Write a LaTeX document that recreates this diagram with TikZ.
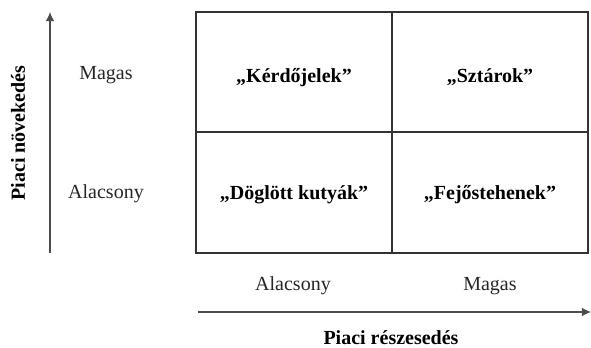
\documentclass[tikz,border=0pt]{standalone}
\usepackage{fontspec}
\setmainfont{Liberation Serif}
\usetikzlibrary{arrows.meta}
\begin{document}
\begin{tikzpicture}[x=0.5pt,y=-0.5pt,
  cell/.style={draw=black!80,line width=1pt,rectangle,inner sep=0pt,outer sep=0pt,
    minimum width=98pt,minimum height=60.25pt,font=\fontsize{10}{12}\selectfont\bfseries},
  celltext/.style={font=\fontsize{10}{12}\selectfont\bfseries,inner sep=0pt},
  lbl/.style={font=\fontsize{10}{12}\selectfont,text=black!85,inner sep=0pt},
  axtitle/.style={font=\fontsize{10}{12}\selectfont\bfseries,inner sep=0pt},
  axis/.style={draw=black!70,line width=0.6pt,-{Latex[length=4.6pt,width=4.4pt]}}]
\useasboundingbox (0,0) rectangle (591,348);
\node[cell] (kj) at (294,72.25) {};
\node[cell] (sz) at (490,72.25) {};
\node[cell] (dk) at (294,192.75) {};
\node[cell] (fs) at (490,192.75) {};
\node[celltext] (kjt) at ([yshift=-2.5pt]kj.center) {„Kérdőjelek”};
\node[celltext] (szt) at ([yshift=-2.5pt]sz.center) {„Sztárok”};
\node[celltext] (dkt) at ([yshift=-1pt]dk.center) {„Döglött kutyák”};
\node[celltext] (fst) at ([yshift=-1pt]fs.center) {„Fejőstehenek”};
\node[lbl] (ym) at (106,75) {Magas};
\node[lbl] (ya) at (106,194) {Alacsony};
\node[lbl] (xa) at (293,286) {Alacsony};
\node[lbl] (xm) at (490,286) {Magas};
\node[axtitle,rotate=90] (yt) at (18,133) {Piaci növekedés};
\node[axtitle] (xt) at (391,338) {Piaci részesedés};
\coordinate (vb) at (50,253);
\coordinate (vt) at (50,12);
\coordinate (hl) at (198,312);
\coordinate (hr) at (591,312);
\draw[axis] (vb) -- (vt);
\draw[axis] (hl) -- (hr);
\end{tikzpicture}
\end{document}
